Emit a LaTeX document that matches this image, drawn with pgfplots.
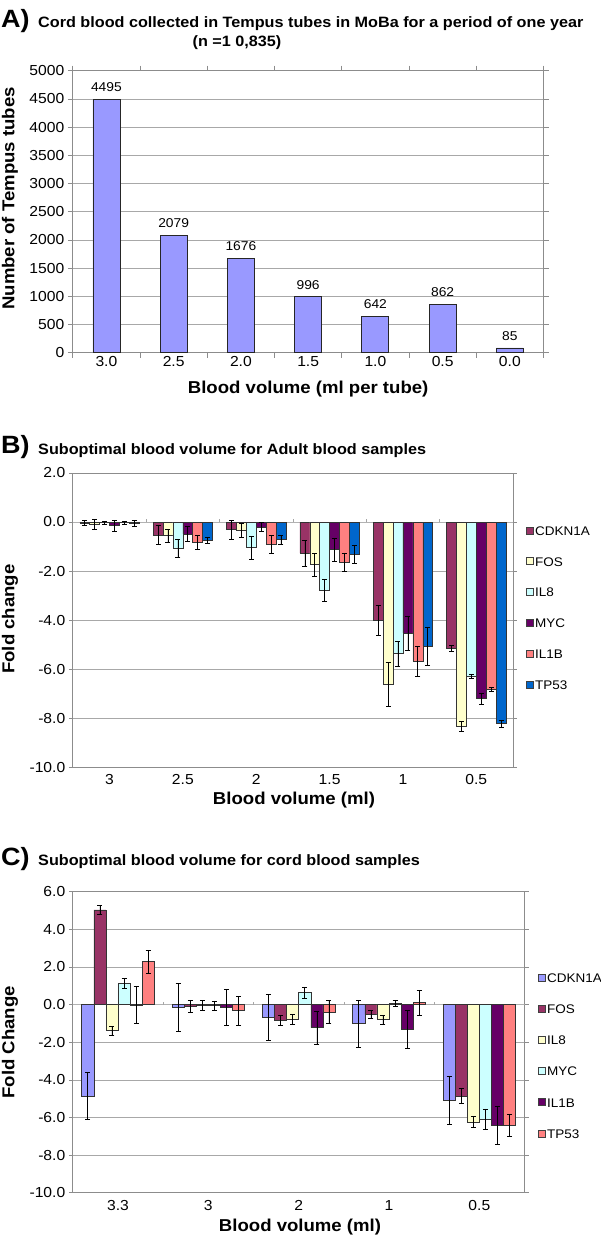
\documentclass[border=0pt]{standalone}
\usepackage{fontspec}
\setmainfont[FakeStretch=1.08]{Liberation Sans}
\usepackage{pgfplots}
\pgfplotsset{compat=1.18}
\definecolor{cA}{HTML}{9999FF}
\definecolor{cMaroon}{HTML}{993366}
\definecolor{cYel}{HTML}{FFFFCC}
\definecolor{cCyan}{HTML}{CCFFFF}
\definecolor{cPurp}{HTML}{660066}
\definecolor{cSal}{HTML}{FF8080}
\definecolor{cBlue}{HTML}{0066CC}
\definecolor{gridc}{HTML}{A8A8A8}
\pgfplotsset{
  /pgfplots/ybar legend/.style={/pgfplots/legend image code/.code={\draw[##1,draw=black!75,line width=0.4pt] (0pt,-3.5pt) rectangle (7pt,3.5pt);}},
  base/.style={scale only axis,
    /pgf/number format/assume math mode=true,
    tick label style={font=\fontsize{14.5}{16}\selectfont},
    label style={font=\fontsize{17.2}{20}\selectfont\bfseries},
    axis line style={black!45, line width=0.7pt},
    ymajorgrids, major grid style={gridc, line width=0.6pt},
    tick style={black!45, line width=0.6pt}, tick align=outside, major tick length=4pt},
  errb/.style={error bars/.cd, y dir=both, y explicit,
    error bar style={black, line width=0.6pt},
    error mark options={rotate=90, mark size=2.5pt, black, line width=0.6pt}},
  barB/.style={draw=black!80, line width=0.5pt, errb},
}
\newcommand\ttlfont{\fontsize{15}{18}\selectfont\bfseries}
\newcommand\panelfont{\fontsize{25}{28}\selectfont\bfseries}
\begin{document}
\begin{tikzpicture}
\useasboundingbox (0,0) rectangle (600pt,-1237pt);
% ---------- Panel A ----------
\node[anchor=base west, font=\panelfont, inner sep=0pt] at (1pt,-27.5pt) {A)};
\node[anchor=base west, font=\ttlfont, inner sep=0pt] at (38pt,-27.3pt) {Cord blood collected in Tempus tubes in MoBa for a period of one year};
\node[anchor=base, font=\ttlfont, inner sep=0pt] at (237pt,-46.5pt) {(n =1 0,835)};
\begin{axis}[base, at={(72.8pt,-352.7pt)}, anchor=south west,
  width=470.7pt, height=282pt,
  ymin=0, ymax=5000, ytick={0,500,...,5000},
  /pgf/number format/1000 sep={},
  xmin=-0.5, xmax=6.5,
  xtick={-0.5,0.5,...,6.5}, xticklabels={},
  extra x ticks={0,1,2,3,4,5,6},
  extra x tick labels={3.0,2.5,2.0,1.5,1.0,0.5,0.0},
  extra x tick style={major tick length=0pt},
  major tick length=5pt,
  ybar, bar width=27pt,
  nodes near coords,
  every node near coord/.append style={font=\fontsize{12.8}{14}\selectfont, inner sep=0pt, anchor=south, yshift=7pt},
  xlabel={Blood volume (ml per tube)},
  ylabel={Number of Tempus tubes},
  xlabel style={at={(axis description cs:0.5,-0.1287)}, anchor=center},
  ylabel style={at={(axis description cs:-0.1334,0.547)}, anchor=center},
]
\addplot[fill=cA, draw=black!85, line width=0.8pt] coordinates {(0,4495) (1,2079) (2,1676) (3,996) (4,642) (5,862) (6,85)};
\end{axis}
% ---------- Panel B ----------
\node[anchor=base west, font=\panelfont, inner sep=0pt] at (1pt,-453pt) {B)};
\node[anchor=base west, font=\ttlfont, inner sep=0pt] at (38pt,-454.5pt) {Suboptimal blood volume for Adult blood samples};
\begin{axis}[base, at={(72.8pt,-767pt)}, anchor=south west,
  width=440.2pt, height=294pt,
  ymin=-10, ymax=2, ytick={-10,-8,...,2},
  yticklabel style={/pgf/number format/.cd, fixed, fixed zerofill, precision=1},
  xmin=-0.5, xmax=5.5, xtick={0,...,5},
  xticklabels={3,2.5,2,1.5,1,0.5},
  every x tick/.style={draw=none},
  ybar=0pt, bar width=9.9pt,
  xlabel={Blood volume (ml)}, ylabel={Fold change},
  xlabel style={at={(axis description cs:0.5025,-0.112)}, anchor=center},
  ylabel style={at={(axis description cs:-0.1427,0.503)}, anchor=center},
  legend style={at={(1.0295,0.823)}, anchor=north west, draw=none, fill=none, inner sep=0pt,
    font=\fontsize{12.5}{15}\selectfont, row sep=20.8pt, column sep=1.5pt,
    nodes={inner sep=0pt, text height=10pt, text depth=0pt}},
  legend cell align=left,
]
\draw[black!30, line width=0.5pt] (axis cs:-0.5,0) -- (axis cs:5.5,0);
\pgfplotsinvokeforeach{0.5,1.5,2.5,3.5,4.5}{\draw[black!35, line width=0.5pt] (axis cs:#1,0) -- ([yshift=3pt]axis cs:#1,0);}
\addplot[fill=cMaroon, barB] coordinates {(0,-0.05) +- (0,0.10) (1,-0.54) +- (0,0.39) (2,-0.31) +- (0,0.39) (3,-1.27) +- (0,0.52) (4,-4.00) +- (0,0.62) (5,-5.17) +- (0,0.12)};
\addlegendentry{CDKN1A}
\addplot[fill=cYel, barB] coordinates {(0,-0.10) +- (0,0.20) (1,-0.55) +- (0,0.26) (2,-0.35) +- (0,0.28) (3,-1.74) +- (0,0.46) (4,-6.63) +- (0,0.90) (5,-8.34) +- (0,0.20)};
\addlegendentry{FOS}
\addplot[fill=cCyan, barB] coordinates {(0,-0.03) +- (0,0.05) (1,-1.09) +- (0,0.37) (2,-1.05) +- (0,0.46) (3,-2.79) +- (0,0.44) (4,-5.37) +- (0,0.50) (5,-6.30) +- (0,0.09)};
\addlegendentry{IL8}
\addplot[fill=cPurp, barB] coordinates {(0,-0.15) +- (0,0.22) (1,-0.48) +- (0,0.32) (2,-0.20) +- (0,0.17) (3,-1.13) +- (0,0.48) (4,-4.53) +- (0,0.70) (5,-7.21) +- (0,0.22)};
\addlegendentry{MYC}
\addplot[fill=cSal, barB] coordinates {(0,-0.03) +- (0,0.06) (1,-0.83) +- (0,0.29) (2,-0.91) +- (0,0.35) (3,-1.63) +- (0,0.37) (4,-5.69) +- (0,0.60) (5,-6.83) +- (0,0.09)};
\addlegendentry{IL1B}
\addplot[fill=cBlue, barB] coordinates {(0,-0.05) +- (0,0.12) (1,-0.75) +- (0,0.12) (2,-0.72) +- (0,0.19) (3,-1.32) +- (0,0.37) (4,-5.06) +- (0,0.77) (5,-8.23) +- (0,0.14)};
\addlegendentry{TP53}
\end{axis}
% ---------- Panel C ----------
\node[anchor=base west, font=\panelfont, inner sep=0pt] at (1pt,-865pt) {C)};
\node[anchor=base west, font=\ttlfont, inner sep=0pt] at (38pt,-865pt) {Suboptimal blood volume for cord blood samples};
\begin{axis}[base, at={(72.8pt,-1192.7pt)}, anchor=south west,
  width=451.7pt, height=301pt,
  ymin=-10, ymax=6, ytick={-10,-8,...,6},
  yticklabel style={/pgf/number format/.cd, fixed, fixed zerofill, precision=1},
  xmin=-0.5, xmax=4.5, xtick={0,...,4},
  xticklabels={3.3,3,2,1,0.5},
  every x tick/.style={draw=none},
  ybar=0pt, bar width=12.1pt,
  xlabel={Blood volume (ml)}, ylabel={Fold Change},
  xlabel style={at={(axis description cs:0.503,-0.114)}, anchor=center},
  ylabel style={at={(axis description cs:-0.139,0.5)}, anchor=center},
  legend style={at={(1.03,0.733)}, anchor=north west, draw=none, fill=none, inner sep=0pt,
    font=\fontsize{12.5}{15}\selectfont, row sep=21.2pt, column sep=1.5pt,
    nodes={inner sep=0pt, text height=10pt, text depth=0pt}},
  legend cell align=left,
]
\draw[black!30, line width=0.5pt] (axis cs:-0.5,0) -- (axis cs:4.5,0);
\pgfplotsinvokeforeach{0.5,1.5,2.5,3.5}{\draw[black!35, line width=0.5pt] (axis cs:#1,0) -- ([yshift=3pt]axis cs:#1,0);}
\addplot[fill=cA, barB] coordinates {(0,-4.85) +- (0,1.24) (1,-0.14) +- (0,1.26) (2,-0.68) +- (0,1.23) (3,-1.01) +- (0,1.24) (4,-5.08) +- (0,1.27)};
\addlegendentry{CDKN1A}
\addplot[fill=cMaroon, barB] coordinates {(0,5.04) +- (0,0.22) (1,-0.09) +- (0,0.32) (2,-0.84) +- (0,0.28) (3,-0.53) +- (0,0.20) (4,-4.85) +- (0,0.38)};
\addlegendentry{FOS}
\addplot[fill=cYel, barB] coordinates {(0,-1.39) +- (0,0.25) (1,-0.03) +- (0,0.26) (2,-0.79) +- (0,0.26) (3,-0.80) +- (0,0.23) (4,-6.25) +- (0,0.29)};
\addlegendentry{IL8}
\addplot[fill=cCyan, barB] coordinates {(0,1.13) +- (0,0.28) (1,-0.05) +- (0,0.25) (2,0.63) +- (0,0.31) (3,0.07) +- (0,0.16) (4,-6.09) +- (0,0.54)};
\addlegendentry{MYC}
\addplot[fill=cPurp, barB] coordinates {(0,-0.03) +- (0,0.98) (1,-0.16) +- (0,0.95) (2,-1.23) +- (0,0.88) (3,-1.31) +- (0,0.99) (4,-6.42) +- (0,0.99)};
\addlegendentry{IL1B}
\addplot[fill=cSal, barB] coordinates {(0,2.28) +- (0,0.62) (1,-0.32) +- (0,0.77) (2,-0.39) +- (0,0.61) (3,0.10) +- (0,0.65) (4,-6.41) +- (0,0.60)};
\addlegendentry{TP53}
\end{axis}
\end{tikzpicture}
\end{document}
